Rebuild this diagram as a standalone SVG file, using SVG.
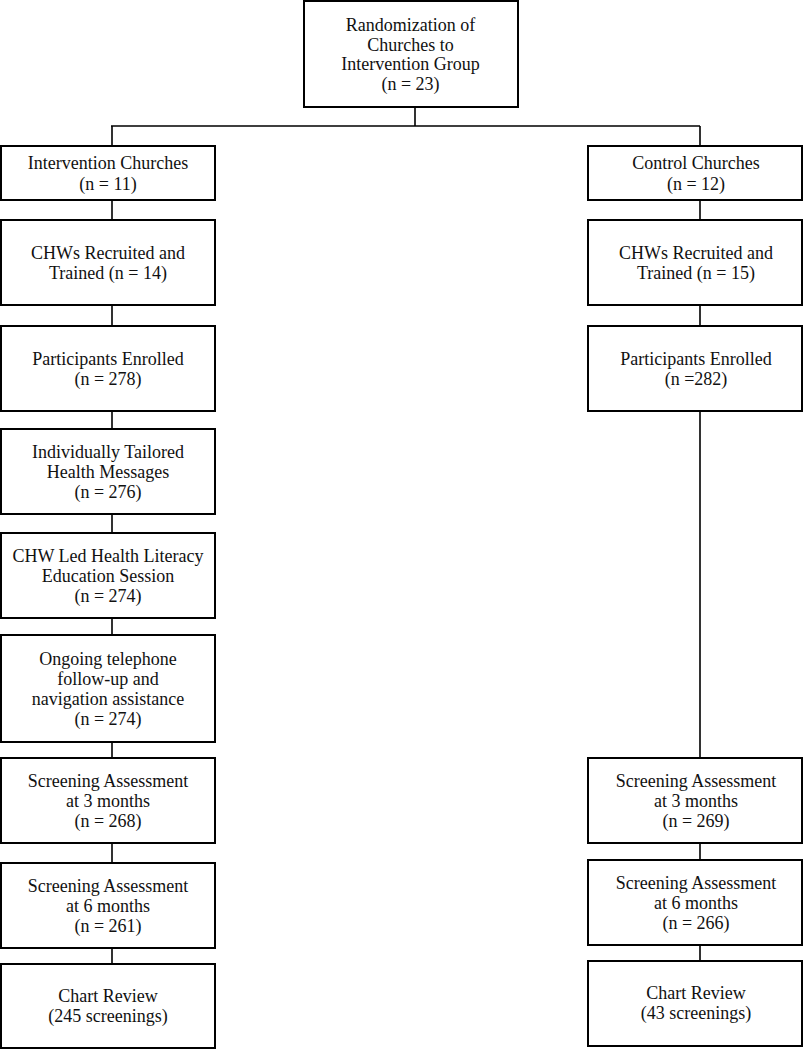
<svg xmlns="http://www.w3.org/2000/svg" width="804" height="1050" viewBox="0 0 804 1050">
<style>
.box{fill:#fff;stroke:#000;stroke-width:2}
.ln{stroke:#000;stroke-width:1.6;fill:none}
text{font-family:"Liberation Serif","Times New Roman",serif;font-size:18px;fill:#111;text-anchor:middle}
</style>
<rect width="804" height="1050" fill="#fff"/>
<g id="connectors">
<path class="ln" d="M415 108V126M111 126H700M112 126V146M700 126V146"/>
<path class="ln" d="M112 200V220M112 305V326M112 411V429M112 514V533M112 618V635M112 742V758M112 843V863M112 948V964"/>
<path class="ln" d="M700 200V220M700 305V326M700 411V758M700 843V860M700 945V961"/>
</g>
<g id="n0"><rect class="box" x="304" y="1" width="214" height="106"/>
<text x="410.5"><tspan x="410.5" y="31">Randomization of</tspan><tspan x="410.5" y="50.5">Churches to</tspan><tspan x="410.5" y="70">Intervention Group</tspan><tspan x="410.5" y="89.5">(n = 23)</tspan></text></g>
<g id="L1"><rect class="box" x="1" y="146" width="214" height="54"/>
<text><tspan x="108" y="169">Intervention Churches</tspan><tspan x="108" y="189.5">(n = 11)</tspan></text></g>
<g id="L2"><rect class="box" x="1" y="220" width="214" height="85"/>
<text><tspan x="108" y="259">CHWs Recruited and</tspan><tspan x="108" y="279">Trained (n = 14)</tspan></text></g>
<g id="L3"><rect class="box" x="1" y="326" width="214" height="85"/>
<text><tspan x="108" y="365">Participants Enrolled</tspan><tspan x="108" y="385">(n = 278)</tspan></text></g>
<g id="L4"><rect class="box" x="1" y="429" width="214" height="85"/>
<text><tspan x="108" y="458">Individually Tailored</tspan><tspan x="108" y="478">Health Messages</tspan><tspan x="108" y="498">(n = 276)</tspan></text></g>
<g id="L5"><rect class="box" x="1" y="533" width="214" height="85"/>
<text><tspan x="108" y="561.5">CHW Led Health Literacy</tspan><tspan x="108" y="581.5">Education Session</tspan><tspan x="108" y="601.5">(n = 274)</tspan></text></g>
<g id="L6"><rect class="box" x="1" y="635" width="214" height="107"/>
<text><tspan x="108" y="664.5">Ongoing telephone</tspan><tspan x="108" y="684.5">follow-up and</tspan><tspan x="108" y="704.5">navigation assistance</tspan><tspan x="108" y="724.5">(n = 274)</tspan></text></g>
<g id="L7"><rect class="box" x="1" y="758" width="214" height="85"/>
<text><tspan x="108" y="786.5">Screening Assessment</tspan><tspan x="108" y="806.5">at 3 months</tspan><tspan x="108" y="826.5">(n = 268)</tspan></text></g>
<g id="L8"><rect class="box" x="1" y="863" width="214" height="85"/>
<text><tspan x="108" y="891.5">Screening Assessment</tspan><tspan x="108" y="911.5">at 6 months</tspan><tspan x="108" y="931.5">(n = 261)</tspan></text></g>
<g id="L9"><rect class="box" x="1" y="964" width="214" height="84"/>
<text><tspan x="108" y="1002">Chart Review</tspan><tspan x="108" y="1022">(245 screenings)</tspan></text></g>
<g id="R1"><rect class="box" x="588" y="146" width="214" height="54"/>
<text><tspan x="696" y="169">Control Churches</tspan><tspan x="696" y="189.5">(n = 12)</tspan></text></g>
<g id="R2"><rect class="box" x="588" y="220" width="214" height="85"/>
<text><tspan x="696" y="259">CHWs Recruited and</tspan><tspan x="696" y="279">Trained (n = 15)</tspan></text></g>
<g id="R3"><rect class="box" x="588" y="326" width="214" height="85"/>
<text><tspan x="696" y="365">Participants Enrolled</tspan><tspan x="696" y="385">(n =282)</tspan></text></g>
<g id="R7"><rect class="box" x="588" y="758" width="214" height="85"/>
<text><tspan x="696" y="786.5">Screening Assessment</tspan><tspan x="696" y="806.5">at 3 months</tspan><tspan x="696" y="826.5">(n = 269)</tspan></text></g>
<g id="R8"><rect class="box" x="588" y="860" width="214" height="85"/>
<text><tspan x="696" y="888.5">Screening Assessment</tspan><tspan x="696" y="908.5">at 6 months</tspan><tspan x="696" y="928.5">(n = 266)</tspan></text></g>
<g id="R9"><rect class="box" x="588" y="961" width="214" height="85"/>
<text><tspan x="696" y="999">Chart Review</tspan><tspan x="696" y="1019">(43 screenings)</tspan></text></g>
</svg>
